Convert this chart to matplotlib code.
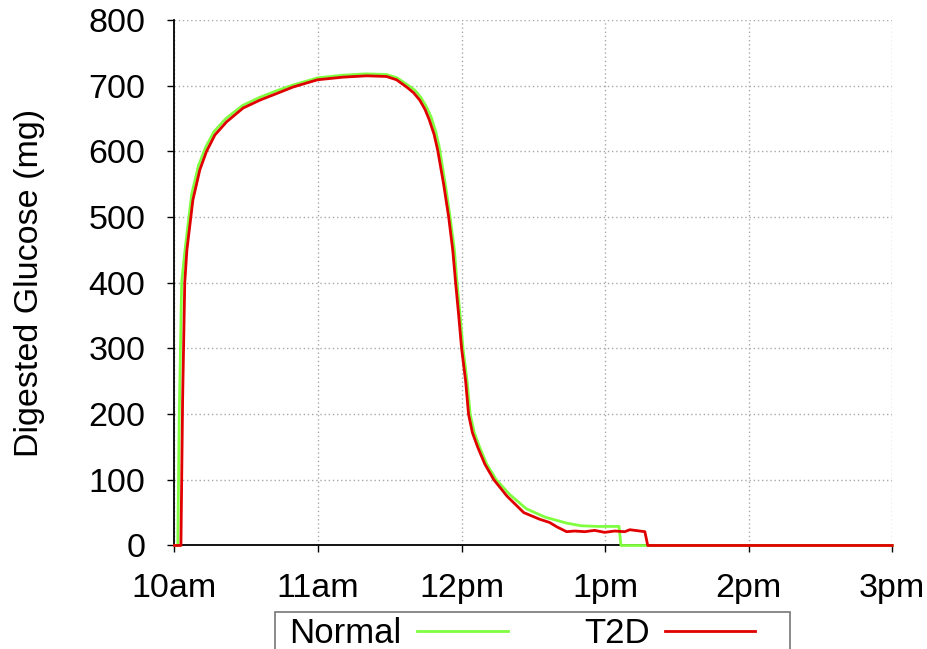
import matplotlib.pyplot as plt
from matplotlib.patches import Rectangle

plt.rcParams['font.family'] = ['Liberation Sans', 'DejaVu Sans']

# minutes after 10am
normal_t = [0, 1.4, 2.0, 3.0, 4.4, 7.2, 10.0, 13.0, 16.5, 21.5, 28.5, 35.5, 42.5, 49.5,
            60.0, 70.5, 80.0, 88.6, 93.0, 97.5, 100.5, 103.0, 105.3, 107.3, 109.2, 110.7,
            113.2, 115.2, 117.0, 118.1, 119.4, 120.6, 122.3, 123.6, 125.3, 127.5, 130.5,
            134.5, 140.0, 147.0, 155.0, 160.0, 164.0, 170.0, 177.0, 181.0, 185.8, 186.6, 300.0]
normal_v = [0, 0, 200, 400, 450, 535, 578, 606, 630, 650, 670, 682, 692, 701,
            712, 716, 718, 717, 712, 701, 693, 682, 668, 652, 630, 606,
            550, 500, 450, 400, 350, 300, 250, 200, 172, 150, 124,
            100, 78, 56, 43, 38, 34, 30, 29, 29, 29, 0, 0]

t2d_t = [0, 2.7, 3.4, 4.3, 5.2, 7.7, 10.6, 13.4, 16.9, 21.8, 28.7, 35.7, 42.7, 49.6,
         59.8, 70.5, 80.3, 88.6, 92.8, 97.0, 100.0, 102.5, 104.7, 106.5, 108.5, 110.0,
         112.5, 114.6, 116.3, 117.5, 118.8, 120.0, 121.7, 122.9, 124.5, 126.7, 129.7,
         133.5, 139.0, 146.0, 152.6, 156.8, 160.0, 163.9, 167.3, 171.5, 175.6, 179.8,
         184.0, 188.2, 190.3, 194.5, 196.6, 197.8, 300.0]
t2d_v = [0, 0, 220, 400, 450, 526, 572, 600, 625, 645, 666, 678, 688, 698,
         709, 713, 715, 714, 709, 698, 689, 678, 664, 648, 626, 602,
         550, 500, 450, 400, 350, 300, 250, 200, 172, 150, 124,
         100, 75, 50, 40, 35, 28, 21, 22, 21, 23, 20,
         22, 21, 24, 22, 21, 0, 0]

hours = [0, 60, 120, 180, 240, 300]
hour_labels = ['10am', '11am', '12pm', '1pm', '2pm', '3pm']

fig = plt.figure(figsize=(9.28, 6.49), dpi=100)
ax = fig.add_axes([0.188, 0.1595, 0.7735, 0.8097])

ln1, = ax.plot(normal_t, normal_v, color='#80ff40', lw=2.0, clip_on=False, zorder=3)
ln2, = ax.plot(t2d_t, t2d_v, color='#e00000', lw=2.0, clip_on=False, zorder=4)

ax.set_xlim(0, 300)
ax.set_ylim(0, 800)
ax.set_xticks(hours)
ax.set_xticklabels(hour_labels)
ax.set_yticks(range(0, 801, 100))

ax.grid(True, color='#a8a8a8', lw=1, linestyle=(0, (1, 2)))
ax.set_axisbelow(True)
for s in ['top', 'right']:
    ax.spines[s].set_visible(False)
for s in ['left', 'bottom']:
    ax.spines[s].set_linewidth(1.3)
    ax.spines[s].set_color('black')

ax.tick_params(axis='both', direction='out', length=5, width=1, labelsize=24.5)
ax.tick_params(axis='y', pad=16)
ax.tick_params(axis='x', pad=15)

ax.set_ylabel('Digested Glucose (mg)', fontsize=24.5)
ax.yaxis.set_label_coords(-0.18, 0.5)

# legend without frame, box drawn separately (gnuplot-style key)
leg = fig.legend([ln1, ln2], ['Normal', 'T2D'], loc='upper center',
                 bbox_to_anchor=(0.563, 0.057), ncol=2, markerfirst=False,
                 fontsize=25, frameon=False, handlelength=2.6,
                 handletextpad=0.45, columnspacing=2.2, borderpad=0.15,
                 borderaxespad=0)
fig.add_artist(Rectangle((0.2963, -0.02), 0.555, 0.077, transform=fig.transFigure,
                         fill=False, edgecolor='#777777', lw=1.2))

plt.savefig('out.png', dpi=100)
